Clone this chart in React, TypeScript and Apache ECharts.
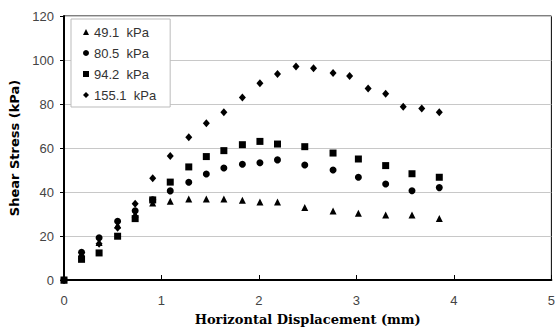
import React, { useEffect, useRef } from "react";
import * as echarts from "echarts";

const xCommon = [0, 0.18, 0.36, 0.55, 0.73, 0.91, 1.09, 1.28, 1.46, 1.64, 1.83, 2.01, 2.19, 2.47, 2.76, 3.02, 3.30, 3.57, 3.85];
const xDiamond = [0, 0.18, 0.36, 0.55, 0.73, 0.91, 1.09, 1.28, 1.46, 1.64, 1.83, 2.01, 2.19, 2.38, 2.56, 2.76, 2.93, 3.12, 3.30, 3.48, 3.67, 3.85];

const s491 = [0, 11, 17, 25, 30, 35, 35.8, 36.8, 36.8, 36.8, 36.2, 35.5, 35.5, 32.9, 31.4, 30.3, 29.5, 29.5, 27.9];
const s805 = [0, 12.6, 19.2, 26.7, 31.5, 36.5, 40.5, 44.4, 48.2, 50.9, 52.6, 53.3, 54.6, 52.3, 50.0, 46.7, 43.6, 40.6, 42.0];
const s942 = [0, 9.4, 12.3, 19.9, 27.9, 36.4, 44.5, 51.4, 56.1, 58.8, 61.5, 63.0, 61.8, 60.6, 57.7, 55.0, 52.0, 48.3, 46.7];
const s1551 = [0, 10.9, 16.5, 23.8, 34.7, 46.2, 56.4, 64.9, 71.2, 76.2, 83.0, 89.4, 93.6, 97.0, 96.2, 94.1, 92.7, 87.1, 84.7, 78.8, 77.9, 76.2];

const seriesNames = ["49.1  kPa", "80.5  kPa", "94.2  kPa", "155.1  kPa"];

const pair = (xs: number[], ys: number[]) => xs.map((x, i) => [x, ys[i]]);

export default function App() {
  const ref = useRef<HTMLDivElement>(null);
  useEffect(() => {
    if (!ref.current) return;
    const chart = echarts.init(ref.current, undefined, { renderer: "svg" });
    const labelFont = { fontFamily: "Liberation Sans, Arial, sans-serif", fontSize: 13, color: "#444" };
    const mark = { color: "#000", opacity: 1 };
    chart.setOption({
      animation: false,
      backgroundColor: "#fff",
      grid: {
        left: 64,
        right: 3,
        top: 16,
        bottom: 52,
        show: true,
        borderColor: "#000",
        borderWidth: 1,
      },
      legend: {
        orient: "vertical",
        left: 71,
        top: 19,
        padding: [6, 14, 5, 12],
        itemGap: 7,
        itemWidth: 6,
        itemHeight: 6,
        backgroundColor: "#fff",
        borderColor: "#bbb",
        borderWidth: 1,
        borderRadius: 0,
        textStyle: { fontFamily: "Liberation Sans, Arial, sans-serif", fontSize: 13, color: "#333", lineHeight: 14 },
        data: seriesNames,
      },
      xAxis: {
        type: "value",
        min: 0,
        max: 5,
        interval: 1,
        name: "Horizontal Displacement (mm)",
        nameLocation: "middle",
        nameGap: 33,
        nameTextStyle: { fontFamily: "DejaVu Serif, serif", fontWeight: "bold", fontSize: 13, color: "#000" },
        axisLine: { show: true, onZero: false, lineStyle: { color: "#000", width: 2 } },
        axisTick: { show: true, inside: true, length: 5, lineStyle: { color: "#000", width: 1 } },
        axisLabel: { ...labelFont, margin: 14 },
        splitLine: { show: false },
      },
      yAxis: {
        type: "value",
        min: 0,
        max: 120,
        interval: 20,
        name: "Shear Stress (kPa)",
        nameLocation: "middle",
        nameGap: 41,
        nameTextStyle: { fontFamily: "DejaVu Sans, sans-serif", fontWeight: "bold", fontSize: 13, color: "#000" },
        axisLine: { show: true, lineStyle: { color: "#000", width: 2 } },
        axisTick: { show: true, inside: false, length: 4, lineStyle: { color: "#000", width: 1 } },
        axisLabel: { ...labelFont, margin: 10 },
        splitLine: { show: true, lineStyle: { color: "#c8c8c8", width: 1 } },
      },
      series: [
        { name: seriesNames[0], type: "scatter", symbol: "triangle", symbolSize: 7, itemStyle: mark, data: pair(xCommon, s491) },
        { name: seriesNames[1], type: "scatter", symbol: "circle", symbolSize: 7, itemStyle: mark, data: pair(xCommon, s805) },
        { name: seriesNames[2], type: "scatter", symbol: "rect", symbolSize: 7, itemStyle: mark, data: pair(xCommon, s942) },
        { name: seriesNames[3], type: "scatter", symbol: "diamond", symbolSize: [7, 8], itemStyle: mark, data: pair(xDiamond, s1551) },
      ],
    });
    return () => chart.dispose();
  }, []);
  return <div ref={ref} style={{ width: 558, height: 332, position: "fixed", left: 0, top: 0 }} />;
}
